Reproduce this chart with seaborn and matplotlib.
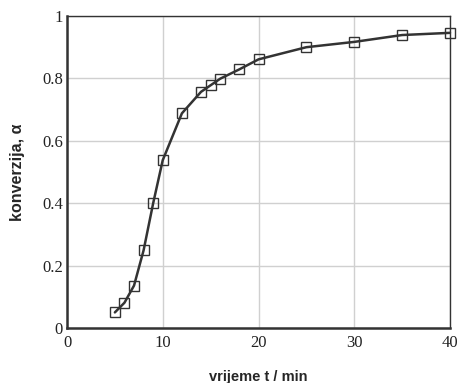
import pandas as pd
import numpy as np
import matplotlib.pyplot as plt
import seaborn as sns

# Podaci: vrijeme i konverzija
vrijeme = [5, 6, 7, 8, 9, 10, 12, 14, 15, 16, 18, 20, 25, 30, 35, 40]
konverzija = [0.05, 0.081, 0.136, 0.249, 0.40, 0.538, 0.688, 0.757, 0.778, 0.799,
              0.829, 0.861, 0.90, 0.917, 0.939, 0.946]
x_ticks = [0, 10, 20, 30, 40]
y_ticks = [0, 0.2, 0.4, 0.6, 0.8, 1]
y_tick_labels = ["0", "0.2", "0.4", "0.6", "0.8", "1"]

veri = pd.DataFrame({"t": vrijeme, "alpha": konverzija})

sns.set_style("white")
fig = plt.figure(figsize=(4.61, 3.83), dpi=100)
ax = fig.add_axes([67 / 461, 1 - 328 / 383, (450 - 67) / 461, (328 - 16) / 383])

sns.lineplot(x="t", y="alpha", data=veri, ax=ax, color="#333333", linewidth=1.8,
             marker="s", markersize=7, markerfacecolor="none",
             markeredgecolor="#333333", markeredgewidth=1.0, clip_on=False, zorder=3)

ax.set_xlim(0, 40)
ax.set_ylim(0, 1)
ax.set_xticks(x_ticks)
ax.set_yticks(y_ticks)
ax.set_xticklabels([str(v) for v in x_ticks], family="Liberation Serif", fontsize=12)
ax.set_yticklabels(y_tick_labels, family="Liberation Serif", fontsize=12)
ax.tick_params(axis="y", length=0, pad=3, colors="#222222")
ax.tick_params(axis="x", length=0, pad=5, colors="#222222")
ax.grid(True, color="#d0d0d0", linewidth=1.0)
ax.set_axisbelow(True)
for s in ax.spines.values():
    s.set_color("#333333")
    s.set_linewidth(1.0)
ax.spines["left"].set_linewidth(1.8)
ax.spines["bottom"].set_linewidth(1.8)

ax.set_xlabel("vrijeme t / min", family="Liberation Sans", fontweight="bold",
              fontsize=10.5, labelpad=14)
ax.set_ylabel("konverzija, α", family="Liberation Sans", fontweight="bold",
              fontsize=11.5, labelpad=12)

plt.savefig("out.png", dpi=100)
